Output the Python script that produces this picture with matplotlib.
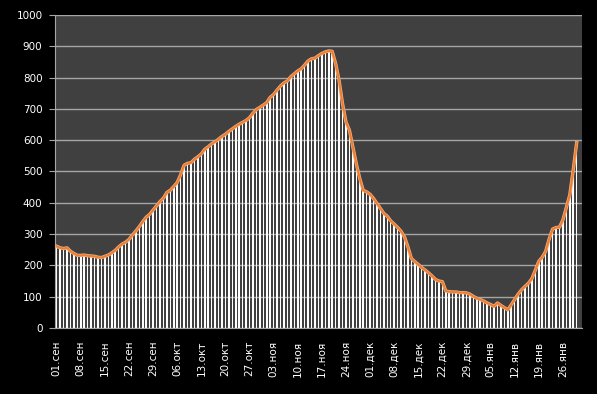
import numpy as np
import pandas as pd
import matplotlib
matplotlib.use('Agg')
import matplotlib.pyplot as plt

# daily values, 01.09 .. 30.01 (31.01 empty)
sep = [261, 256, 254, 256, 245, 238, 232, 232, 233, 231, 230, 229, 226, 225, 229,
       233, 240, 248, 259, 268, 274, 283, 297, 310, 324, 340, 354, 363, 377, 390]
okt = [404, 415, 433, 440, 452, 465, 490, 520, 526, 528, 539, 547, 556, 571, 579, 588,
       595, 603, 612, 619, 628, 636, 644, 651, 657, 663, 672, 686, 698, 705, 712]
noy = [720, 737, 746, 760, 773, 783, 789, 803, 812, 821, 828, 840, 853, 860, 862,
       870, 877, 882, 885, 884, 845, 791, 717, 658, 632, 579, 525, 478, 440, 435]
dek = [427, 414, 398, 382, 366, 357, 342, 332, 321, 309, 291, 259, 222, 212, 203, 193,
       185, 176, 166, 155, 150, 148, 118, 116, 115, 115, 113, 113, 112, 108, 101]
yan = [95, 91, 86, 80, 75, 69, 80, 72, 65, 58, 74, 91, 108, 122, 133,
       143, 158, 185, 213, 226, 245, 284, 316, 321, 322, 345, 385, 425, 505, 592, np.nan]

values = np.array(sep + okt + noy + dek + yan, dtype=float)
dates = pd.date_range('2020-09-01', '2021-01-31', freq='D')
month_ru = {9: 'сен', 10: 'окт', 11: 'ноя', 12: 'дек', 1: 'янв'}
labels = ['%02d.%s' % (d.day, month_ru[d.month]) for d in dates]

x = np.arange(len(values))

fig = plt.figure(figsize=(5.97, 3.94), dpi=100, facecolor='black')
ax = fig.add_axes([0.0921, 0.1675, 0.8825, 0.7945])
ax.set_facecolor('#404040')

ax.bar(x, np.nan_to_num(values), width=0.45, color='white', zorder=2)
ax.plot(x, values, color='#F4B183', lw=2.4, zorder=3)
ax.plot(x, values, color='#ED7D31', lw=1.4, zorder=4)

ax.set_xlim(-0.5, len(values) - 0.5)
ax.set_ylim(0, 1000)
ax.set_yticks(np.arange(0, 1001, 100))
ax.yaxis.grid(True, color='#A6A6A6', lw=1)
ax.set_axisbelow(True)

ticks = x[::7]
ax.set_xticks(ticks)
ax.set_xticklabels([labels[i] for i in ticks], rotation=90)

for s in ['top', 'right']:
    ax.spines[s].set_visible(False)
ax.spines['left'].set_color('#A6A6A6')
ax.spines['bottom'].set_color('#A6A6A6')
ax.tick_params(axis='y', colors='#A6A6A6', labelcolor='white', length=4, pad=5, labelsize=7.5)
ax.tick_params(axis='x', length=0, labelcolor='white', pad=9, labelsize=7.5)

fig.savefig('out.png', dpi=100, facecolor='black')
